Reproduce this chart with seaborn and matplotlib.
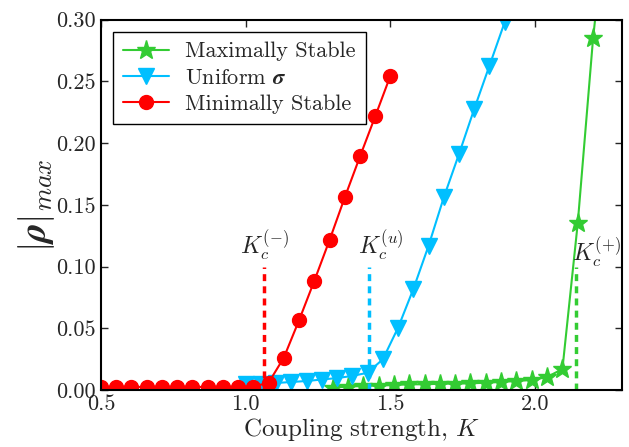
import numpy as np
import pandas as pd
import matplotlib
matplotlib.use("Agg")
import matplotlib.pyplot as plt
import seaborn as sns

# ---- data ----
K_min = np.linspace(0.5, 1.5, 20)
rho_min = [0.0025, 0.0025, 0.0025, 0.0025, 0.0025, 0.0025, 0.0025, 0.0025, 0.0025, 0.0025,
           0.0028, 0.0059, 0.0262, 0.0565, 0.0884, 0.1214, 0.1560, 0.1892, 0.2217, 0.2547]

K_uni = np.linspace(1.0, 2.0, 20)[:19]
rho_uni = [0.0045, 0.0050, 0.0057, 0.0065, 0.0073, 0.0085, 0.0097, 0.0114, 0.0140, 0.0249,
           0.0505, 0.0817, 0.1168, 0.1560, 0.1912, 0.2277, 0.2628, 0.2980, 0.3350]

K_max = np.linspace(1.3, 2.2, 18).tolist() + [2.253]
rho_max = [0.0020, 0.0028, 0.0032, 0.0036, 0.0040, 0.0046, 0.0046, 0.0051, 0.0051, 0.0054,
           0.0059, 0.0065, 0.0073, 0.0081, 0.0105, 0.0170, 0.1352, 0.2849, 0.4000]

Kc = {"minus": 1.064, "u": 1.425, "plus": 2.140}
Kc_top = {"minus": 0.100, "u": 0.100, "plus": 0.100}

labels = ["Maximally Stable", r"Uniform $\boldsymbol{\sigma}$", "Minimally Stable"]
colors = ["#33cc33", "#00bfff", "#ff0000"]
xticks = [0.5, 1.0, 1.5, 2.0]
yticks = [0.00, 0.05, 0.10, 0.15, 0.20, 0.25, 0.30]

# ---- style ----
sns.set_style("ticks")
plt.rcParams.update({
    "font.family": ["cmr10"],
    "mathtext.fontset": "cm",
    "axes.formatter.use_mathtext": True,
    "xtick.direction": "in",
    "ytick.direction": "in",
    "xtick.top": True,
    "ytick.right": True,
    "xtick.major.size": 5,
    "ytick.major.size": 5,
    "axes.linewidth": 1.5,
    "axes.edgecolor": "black",
})

fig = plt.figure(figsize=(6.29, 4.47), dpi=100)
ax = fig.add_axes([0.1606, 0.1275, 0.8283, 0.8285])

df_max = pd.DataFrame({"K": K_max, "rho": rho_max})
df_uni = pd.DataFrame({"K": K_uni, "rho": rho_uni})
df_min = pd.DataFrame({"K": K_min, "rho": rho_min})

sns.lineplot(data=df_max, x="K", y="rho", ax=ax, color=colors[0], marker="*",
             markersize=14, mec=colors[0], mew=1, lw=1.5, label=labels[0], sort=False)
sns.lineplot(data=df_uni, x="K", y="rho", ax=ax, color=colors[1], marker="v",
             markersize=11, mec=colors[1], mew=1, lw=1.5, label=labels[1], sort=False)
sns.lineplot(data=df_min, x="K", y="rho", ax=ax, color=colors[2], marker="o",
             markersize=10, mec=colors[2], mew=1, lw=1.5, label=labels[2], sort=False)

for key, c in zip(["plus", "u", "minus"], colors):
    ax.plot([Kc[key], Kc[key]], [0, Kc_top[key]], ls=(0, (2, 1.5)), color=c, lw=2.5)

ax.text(Kc["minus"], 0.104, r"$K_c^{(-)}$", ha="center", va="bottom", fontsize=17)
ax.text(1.387, 0.104, r"$K_c^{(u)}$", ha="left", va="bottom", fontsize=17)
ax.text(2.126, 0.098, r"$K_c^{(+)}$", ha="left", va="bottom", fontsize=17)

ax.set_xlim(0.5, 2.3)
ax.set_ylim(0.0, 0.30)
ax.set_xticks(xticks)
ax.set_yticks(yticks)
ax.set_xticklabels([f"{v:.1f}" for v in xticks])
ax.set_yticklabels([f"{v:.2f}" for v in yticks])
ax.tick_params(labelsize=16, width=1)
ax.set_xlabel(r"Coupling strength, $K$", fontsize=18, labelpad=1)
ax.set_ylabel(r"$|\boldsymbol{\rho}|_{max}$", fontsize=27, labelpad=0)

leg = ax.legend(loc="upper left", fontsize=16, frameon=True, fancybox=False,
                edgecolor="black", numpoints=1, handlelength=2.05, handletextpad=0.75,
                borderaxespad=0.55, borderpad=0.45, labelspacing=0.3)
leg.get_frame().set_linewidth(1.0)
leg.get_frame().set_alpha(1)

fig.savefig("out.png", dpi=100)
